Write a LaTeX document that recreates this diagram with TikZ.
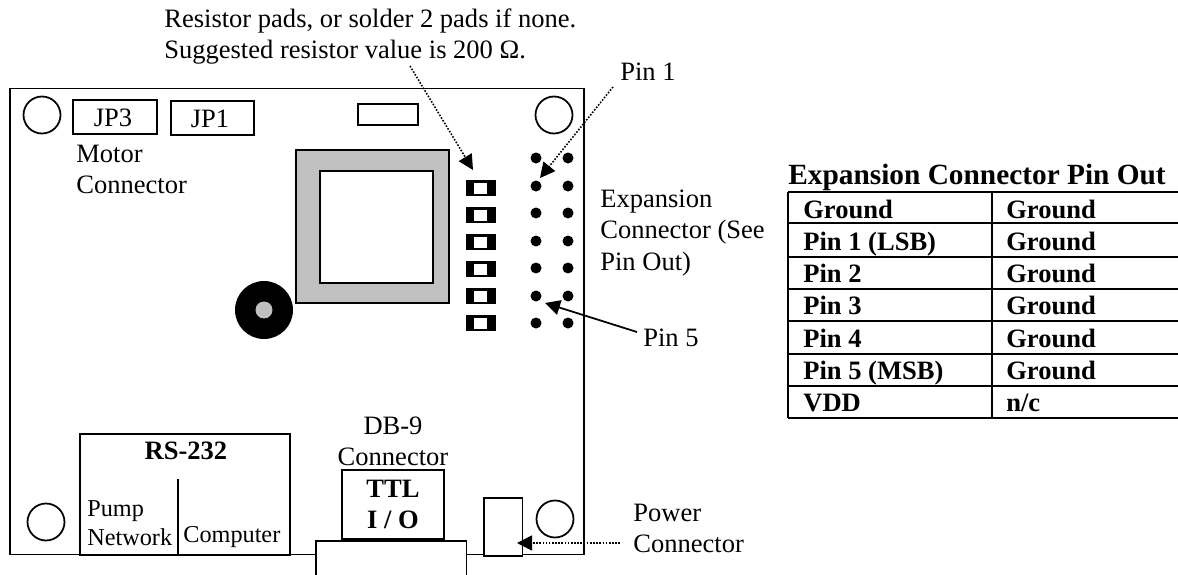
\documentclass[tikz,border=0pt]{standalone}
\usepackage{fontspec}
\setmainfont{Liberation Serif}
\usepackage{xcolor}
\usetikzlibrary{arrows.meta}
\definecolor{partgray}{HTML}{C0C0C0}
\tikzset{
  txt/.style={font=\fontsize{15.1pt}{17.7pt}\selectfont,inner sep=0pt,align=left},
  smalltxt/.style={txt,font=\fontsize{13.8pt}{16.3pt}\selectfont},
  cell/.style={txt,font=\fontsize{15.1pt}{17.7pt}\selectfont\bfseries,anchor=base west},
  part/.style={draw,line width=1pt,inner sep=0pt,outer sep=0pt},
  hole/.style={part,circle,minimum size=0.74cm},
  pin/.style={circle,fill=black,inner sep=0pt,minimum size=0.22cm},
  tip/.style={-{Triangle[length=0.3cm,width=0.3cm]}},
  dotarrow/.style={tip,line width=0.9pt,dash pattern=on 0.9pt off 0.9pt}
}
\begin{document}
\begin{tikzpicture}[x=0.02cm,y=-0.02cm]
  \useasboundingbox (0,0) rectangle (1178,575);
  \node[part,minimum width=11.48cm,minimum height=9.32cm] (board) at (297,321.5) {};
  \node[hole] (holeA) at (42,115) {};
  \node[hole] (holeB) at (554,115) {};
  \node[hole] (holeC) at (46,522) {};
  \node[hole] (holeD) at (555,519) {};
  \node[part,minimum width=1.68cm,minimum height=0.68cm] (jpthree) at (115,117) {};
  \node[part,minimum width=1.66cm,minimum height=0.68cm] (jpone) at (212.5,118) {};
  \node[txt,anchor=base] (jpthreetxt) at (113,126) {JP3};
  \node[txt,anchor=base] (jponetxt) at (210,127) {JP1};
  \node[txt,anchor=west] (motor) at (76,169) {Motor\\Connector};
  \node[part,minimum width=1.2cm,minimum height=0.42cm] (chip) at (388,114.5) {};
  \node[part,fill=partgray,minimum width=3.06cm,minimum height=3.06cm] (coil) at (372.5,226.5) {};
  \node[part,fill=white,minimum width=2.26cm,minimum height=2.24cm] (coilin) at (376.5,227) {};
  \node[circle,fill=black,inner sep=0pt,minimum size=1.16cm] (buzzer) at (264,310) {};
  \node[circle,fill=partgray,inner sep=0pt,minimum size=0.34cm] (buzzerin) at (264,310) {};
  \foreach \i/\y in {1/188,2/215,3/242,4/269,5/296,6/323} {
    \node[fill=black,inner sep=0pt,minimum width=0.6cm,minimum height=0.32cm] (pad\i) at (481,\y) {};
    \node[fill=white,inner sep=0pt,minimum width=0.26cm,minimum height=0.22cm] (padin\i) at (480.5,\y) {};
  }
  \foreach \i/\y in {1/158,2/186,3/213,4/241,5/268,6/296,7/323} {
    \node[pin] (pinl\i) at (536,\y) {};
    \node[pin] (pinr\i) at (568,\y) {};
  }
  \node[txt,anchor=base west] (note) at (164,27) {Resistor pads, or solder 2 pads if none.};
  \node[txt,anchor=base west] (notetwo) at (164,58) {Suggested resistor value is 200 Ω.};
  \node[txt,anchor=base west] (pinone) at (620,80) {Pin 1};
  \node[txt,anchor=base west] (pinfive) at (643,346) {Pin 5};
  \node[txt,anchor=west] (expansion) at (600,233) {Expansion\\Connector (See\\Pin Out)};
  \node[part,minimum width=4.2cm,minimum height=2.42cm] (rs) at (185,494.5) {};
  \coordinate (divtop) at (178,479);
  \coordinate (divbot) at (178,555);
  \draw[line width=1pt] (divtop) -- (divbot);
  \node[txt,anchor=base,font=\fontsize{15.1pt}{17.7pt}\selectfont\bfseries] (rstxt) at (186,459) {RS-232};
  \node[smalltxt,anchor=west] (pump) at (87,523) {Pump\\Network};
  \node[smalltxt,anchor=base west] (computer) at (183,542) {Computer};
  \node[txt,align=center,anchor=center] (dbnine) at (393,441) {DB-9\\Connector};
  \node[part,minimum width=2.04cm,minimum height=1.38cm] (ttl) at (393,504.5) {};
  \node[txt,align=center,anchor=center,font=\fontsize{15.1pt}{17.7pt}\selectfont\bfseries] (ttltxt) at (393,504) {TTL\\I / O};
  \node[part,fill=white,minimum width=3.01cm,minimum height=1.4cm] (db) at (391.25,576) {};
  \node[part,fill=white,minimum width=0.77cm,minimum height=1.16cm] (power) at (503.25,527) {};
  \node[txt,anchor=west] (powertxt) at (633,528) {Power\\Connector};
  \coordinate (padtail) at (410,66);
  \coordinate (padtip) at (473,170);
  \coordinate (pinonetail) at (613,87);
  \coordinate (pinonetip) at (540,178);
  \coordinate (pinfivetail) at (637,332);
  \coordinate (pinfivetip) at (545,303);
  \coordinate (powertail) at (620,543);
  \coordinate (powertip) at (517,543);
  \draw[dotarrow] (padtail) -- (padtip);
  \draw[dotarrow] (pinonetail) -- (pinonetip);
  \draw[dotarrow] (powertail) -- (powertip);
  \draw[tip,line width=1pt] (pinfivetail) -- (pinfivetip);
  \node[cell,font=\fontsize{16.7pt}{19pt}\selectfont\bfseries] (title) at (788,184) {Expansion Connector Pin Out};
  \foreach \i/\b/\l/\r in {1/218/Ground/Ground,2/250/Pin 1 (LSB)/Ground,3/282/Pin 2/Ground,4/314/Pin 3/Ground,5/347/Pin 4/Ground,6/379/Pin 5 (MSB)/Ground,7/411/VDD/n\slash c} {
    \node[cell] (left\i) at (803,\b) {\l};
    \node[cell] (right\i) at (1006,\b) {\r};
  }
  \coordinate (tabnw) at (788,192.3);
  \coordinate (tabsw) at (788,417.7);
  \coordinate (tabmidn) at (992,192.3);
  \coordinate (tabmids) at (992,417.7);
  \draw[line width=1pt] (tabnw) -- (tabsw);
  \draw[line width=1pt] (tabmidn) -- (tabmids);
  \foreach \y in {192.3,223.3,256.7,289,321.3,354,386.3,417.7} {
    \draw[line width=1pt] (788,\y) -- (1178,\y);
  }
\end{tikzpicture}
\end{document}
